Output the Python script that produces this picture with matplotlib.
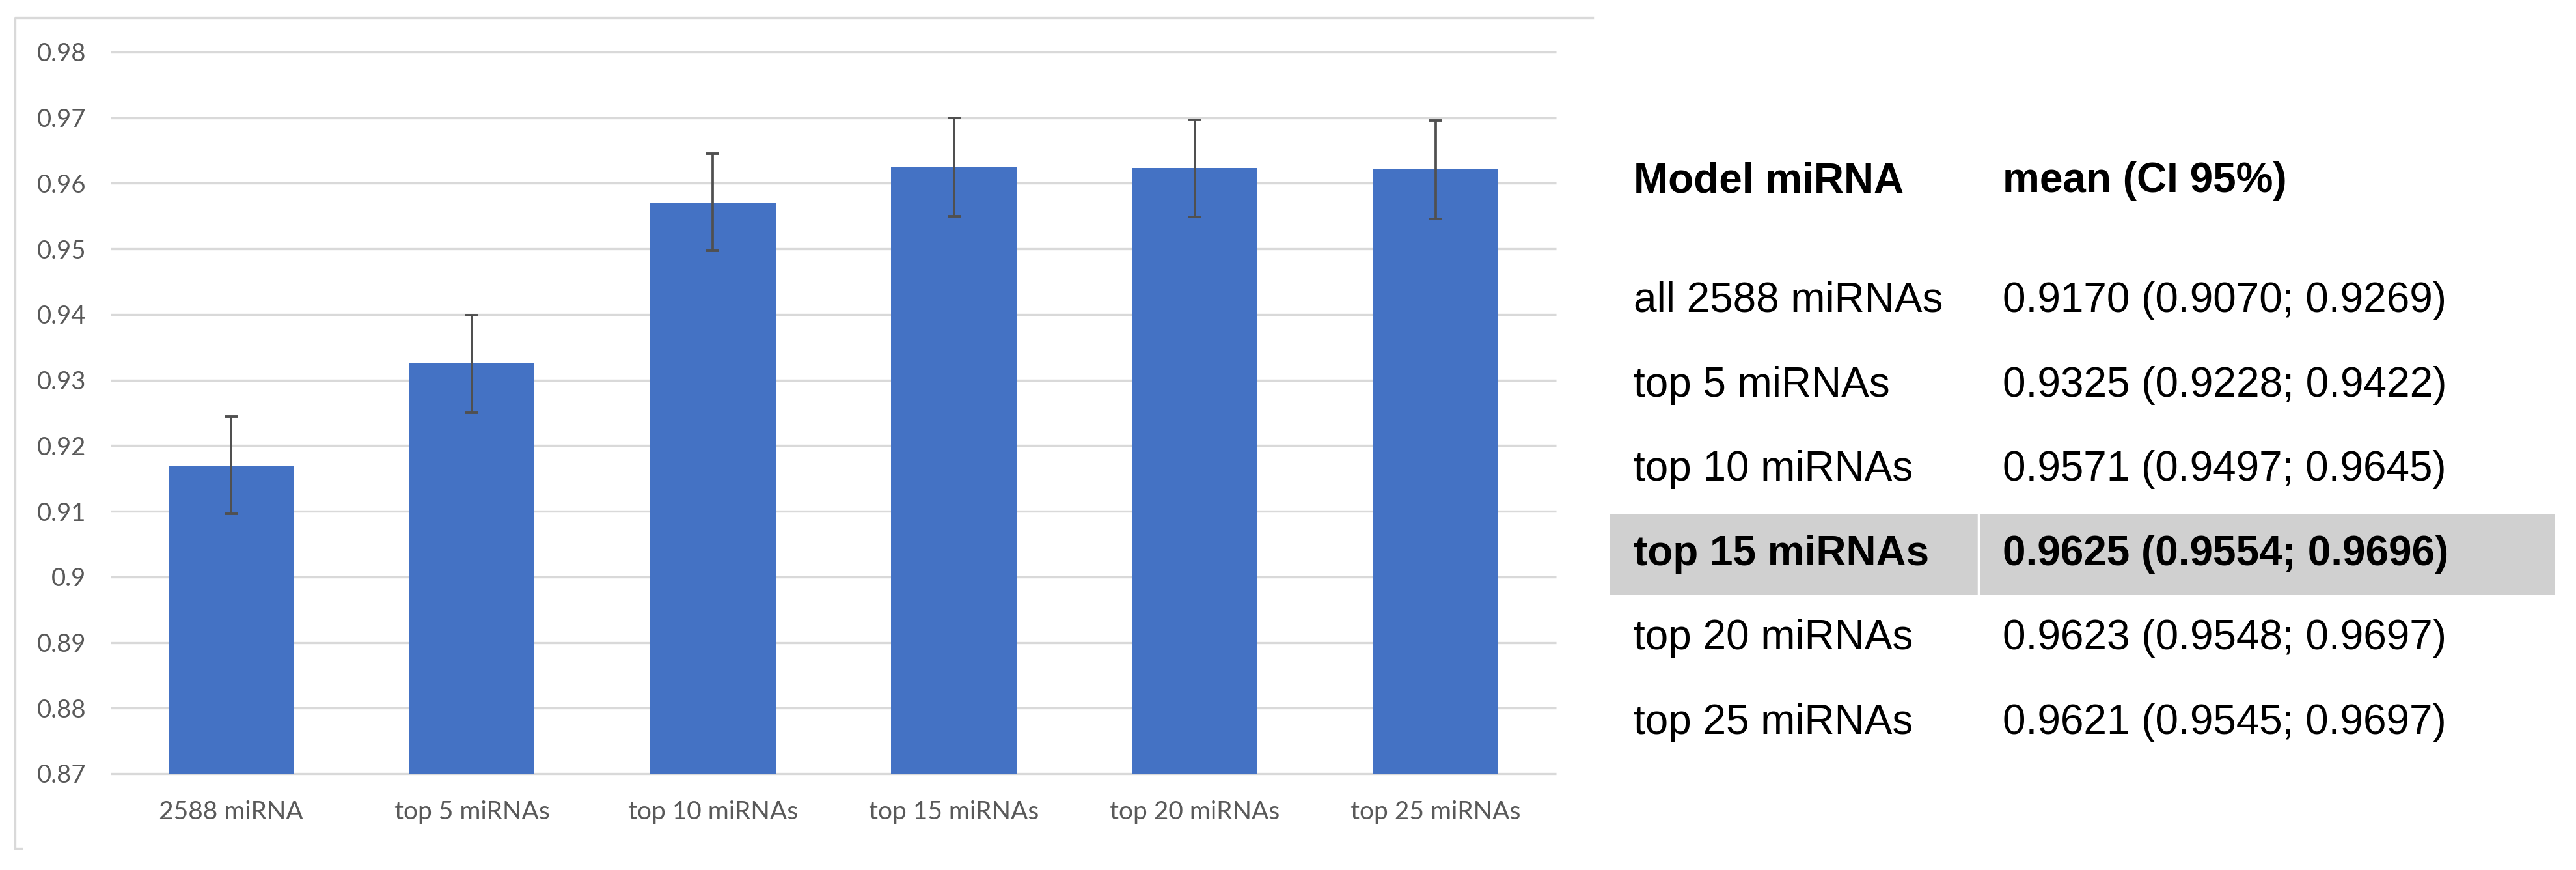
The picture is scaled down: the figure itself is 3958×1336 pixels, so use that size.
import matplotlib
matplotlib.use('Agg')
import matplotlib.pyplot as plt
from matplotlib.transforms import blended_transform_factory
from matplotlib.lines import Line2D
from matplotlib.patches import Rectangle
import numpy as np

# ---------------- data ----------------
categories = ['2588 miRNA', 'top 5 miRNAs', 'top 10 miRNAs',
              'top 15 miRNAs', 'top 20 miRNAs', 'top 25 miRNAs']
means = [0.9170, 0.9325, 0.9571, 0.9625, 0.9623, 0.9621]
err_half = [0.0074, 0.0074, 0.0074, 0.0075, 0.0074, 0.0075]
yticks = [0.87, 0.88, 0.89, 0.90, 0.91, 0.92, 0.93, 0.94, 0.95, 0.96, 0.97, 0.98]
ytick_labels = ['0.87', '0.88', '0.89', '0.9', '0.91', '0.92', '0.93',
                '0.94', '0.95', '0.96', '0.97', '0.98']

table_header = ['Model miRNA', 'mean (CI 95%)']
table_models = ['all 2588 miRNAs', 'top 5 miRNAs', 'top 10 miRNAs',
                'top 15 miRNAs', 'top 20 miRNAs', 'top 25 miRNAs']
table_values = ['0.9170 (0.9070; 0.9269)', '0.9325 (0.9228; 0.9422)',
                '0.9571 (0.9497; 0.9645)', '0.9625 (0.9554; 0.9696)',
                '0.9623 (0.9548; 0.9697)', '0.9621 (0.9545; 0.9697)']
highlight_row = 3

# ---------------- layout ----------------
W, H = 3958, 1336
fig = plt.figure(figsize=(W / 100, H / 100), dpi=100)
fig.patch.set_facecolor('white')


def fx(px):
    return px / W


def fy(py):
    return 1 - py / H


chart_font = ['Lato', 'DejaVu Sans']
table_font = ['Liberation Sans', 'DejaVu Sans']
label_color = '#595959'
grid_color = '#d9d9d9'

ax = fig.add_axes([fx(170), fy(1188), fx(2391) - fx(170), fy(80) - fy(1188)])
x = np.arange(len(categories))
ax.set_xlim(-0.5, len(categories) - 0.5)
ax.set_ylim(yticks[0], yticks[-1])

ax.hlines(yticks, -0.5, len(categories) - 0.5, colors=grid_color,
          linewidth=2.4, zorder=0, clip_on=False)
ax.bar(x, means, width=0.52, color='#4472C4', zorder=2)
ax.errorbar(x, means, yerr=err_half, fmt='none', ecolor='#505050',
            elinewidth=2.7, capsize=7.5, capthick=2.8, zorder=3)

for s in ax.spines.values():
    s.set_visible(False)
ax.set_yticks(yticks, ytick_labels)
ax.tick_params(axis='y', length=0, pad=27, labelcolor=label_color,
               labelsize=27.5)
for t in ax.get_yticklabels():
    t.set_family(chart_font)
ax.set_xticks([])

trans = blended_transform_factory(ax.transData, fig.transFigure)
for xi, cat in zip(x, categories):
    ax.text(xi, fy(1258), cat, transform=trans, ha='center', va='baseline',
            fontsize=28, color=label_color, family=chart_font)

# chart frame (top and left edges visible)
fig.add_artist(Line2D([fx(23), fx(23), fx(2447)], [fy(1303), fy(27), fy(27)],
                      transform=fig.transFigure, color=grid_color, lw=2.4))
fig.add_artist(Line2D([fx(23), fx(33)], [fy(1303), fy(1303)],
                      transform=fig.transFigure, color=grid_color, lw=2.4))

# ---------------- table ----------------
col1_x, col2_x = 2510, 3077
header_base = 295
row_base0 = 479
row_step = 129.6
fsize = 46

# highlight band
hb_top = row_base0 + highlight_row * row_step - 79
hb_bot = hb_top + 125
fig.add_artist(Rectangle((fx(2474), fy(hb_bot)), fx(3925) - fx(2474),
                         fy(hb_top) - fy(hb_bot), transform=fig.transFigure,
                         facecolor='#d0d0d0', edgecolor='none', zorder=0))
fig.add_artist(Line2D([fx(3040), fx(3040)], [fy(hb_top), fy(hb_bot)],
                      transform=fig.transFigure, color='white', lw=2.5,
                      zorder=1))

fig.text(fx(col1_x), fy(header_base), table_header[0], fontsize=fsize,
         weight='bold', family=table_font, va='baseline', color='black')
fig.text(fx(col2_x), fy(header_base), table_header[1], fontsize=fsize,
         weight='bold', family=table_font, va='baseline', color='black')

for i, (m, v) in enumerate(zip(table_models, table_values)):
    yb = row_base0 + i * row_step
    w = 'bold' if i == highlight_row else 'normal'
    fig.text(fx(col1_x), fy(yb), m, fontsize=fsize, weight=w,
             family=table_font, va='baseline', color='black', zorder=2)
    fig.text(fx(col2_x), fy(yb), v, fontsize=fsize, weight=w,
             family=table_font, va='baseline', color='black', zorder=2)

fig.savefig('out.png', dpi=100, facecolor='white')
